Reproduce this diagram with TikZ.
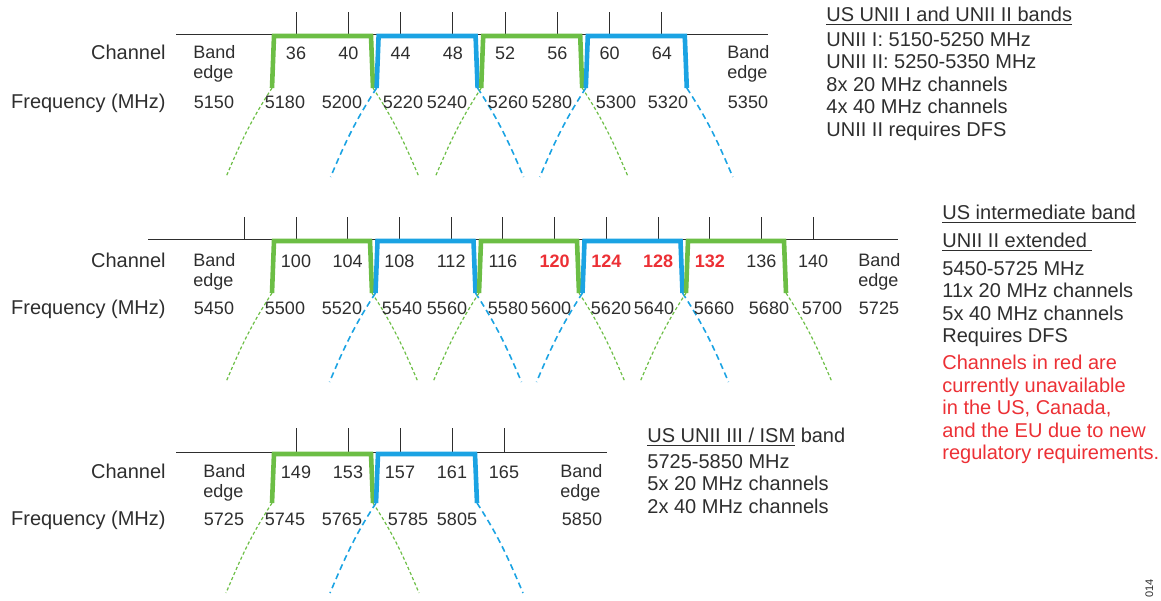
\documentclass[tikz,border=0pt]{standalone}
\usepackage{fontspec}
\setmainfont{Liberation Sans}
\definecolor{wifigreen}{HTML}{6CBE45}
\definecolor{wifiblue}{HTML}{1BA3E3}
\definecolor{dfsred}{HTML}{EC3035}
\definecolor{inkgray}{HTML}{2E2E2E}

\begin{document}
\begin{tikzpicture}[x=0.5pt,y=-0.5pt,
 lbl/.style={font=\fontsize{9}{10}\selectfont,text=inkgray,inner sep=0pt,anchor=base},
 rowlbl/.style={lbl,anchor=base east,font=\fontsize{10}{10}\selectfont},
 redlbl/.style={lbl,text=dfsred,font=\fontsize{9}{10}\selectfont\bfseries},
 edgelbl/.style={lbl,align=left,anchor=north west},
 info/.style={lbl,align=left,anchor=north west,font=\fontsize{10}{11.25}\selectfont},
 axis/.style={draw=inkgray,line width=0.5pt},
 blk/.style={line width=2.3pt},
 gskirt/.style={wifigreen,line width=0.6pt,dash pattern=on 1.6pt off 1.2pt},
 bskirt/.style={wifiblue,line width=0.8pt,dash pattern=on 3pt off 2pt}]
\useasboundingbox (0,0) rectangle (1161,600);

% UNII I and UNII II
\node[rowlbl] (r1chan) at (166,59) {Channel};
\node[rowlbl] (r1freq) at (166,108) {Frequency (MHz)};
\draw[axis] (176,34) -- (768,34);
\foreach \n in {36,40,...,64}{
 \draw[axis] ({296+(\n-36)*13.07},12) -- ++(0,22);
 \node[lbl] (r1c\n) at ({296+(\n-36)*13.07},59) {\n};}
\foreach \k/\c/\s in {0/wifigreen/gskirt,1/wifiblue/bskirt,2/wifigreen/gskirt,3/wifiblue/bskirt}{
 \draw[blk,\c] ({272+104.6*\k},88) coordinate (r1l\k) -- ++(2,-52) -- ++(97,0) -- ++(2,52) coordinate (r1r\k);
 \draw[\s] (r1l\k) to[out=237,in=67] ++(-46,89);
 \draw[\s] (r1r\k) to[out=303,in=113] ++(46,89);}
\foreach \x/\f in {214/5150,285/5180,342/5200,403/5220,447/5240,508/5260,552/5280,616/5300,668/5320,748/5350}
 \node[lbl] (r1f\f) at (\x,108) {\f};
\node[edgelbl] (r1el) at (193,45) {Band\\edge};
\node[edgelbl] (r1er) at (727,45) {Band\\edge};
\node[info] (r1head) at (826,7) {\underline{US UNII I and UNII II bands}};
\node[info] (r1note) at (826,32) {UNII I: 5150-5250 MHz\\UNII II: 5250-5350 MHz\\8x 20 MHz channels\\4x 40 MHz channels\\UNII II requires DFS};

% UNII II extended
\node[rowlbl] (r2chan) at (166,267) {Channel};
\node[rowlbl] (r2freq) at (166,314) {Frequency (MHz)};
\draw[axis] (148,239) -- (898,239);
\foreach \n in {96,100,...,140}
 \draw[axis] ({296+(\n-100)*12.93},217) -- ++(0,22);
\foreach \n/\s in {100/lbl,104/lbl,108/lbl,112/lbl,116/lbl,120/redlbl,124/redlbl,128/redlbl,132/redlbl,136/lbl,140/lbl}
 \node[\s] (r2c\n) at ({296+(\n-100)*12.93},267) {\n};
\foreach \k/\c/\s in {0/wifigreen/gskirt,1/wifiblue/bskirt,2/wifigreen/gskirt,3/wifiblue/bskirt,4/wifigreen/gskirt}{
 \draw[blk,\c] ({272+103.5*\k},293) coordinate (r2l\k) -- ++(2,-52) -- ++(96,0) -- ++(2,52) coordinate (r2r\k);
 \draw[\s] (r2l\k) to[out=237,in=67] ++(-46,89);
 \draw[\s] (r2r\k) to[out=303,in=113] ++(46,89);}
\foreach \x/\f in {214/5450,285/5500,342/5520,402/5540,447/5560,508/5580,551/5600,611/5620,654/5640,714/5660,769/5680,822/5700,879/5725}
 \node[lbl] (r2f\f) at (\x,314) {\f};
\node[edgelbl] (r2el) at (193,253) {Band\\edge};
\node[edgelbl] (r2er) at (858,253) {Band\\edge};
\node[info] (r2head) at (942,205) {\underline{US intermediate band}};
\node[info] (r2sub) at (942,233) {\underline{UNII II extended\ }};
\node[info] (r2note) at (942,261) {5450-5725 MHz\\11x 20 MHz channels\\5x 40 MHz channels\\Requires DFS};
\node[info,text=dfsred] (r2red) at (942,355) {Channels in red are\\currently unavailable\\in the US, Canada,\\and the EU due to new\\regulatory requirements.};

% UNII III / ISM
\node[rowlbl] (r3chan) at (166,478) {Channel};
\node[rowlbl] (r3freq) at (166,525) {Frequency (MHz)};
\draw[axis] (176,452) -- (607,452);
\foreach \n in {149,153,...,165}{
 \draw[axis] ({296+(\n-149)*13},428) -- ++(0,24);
 \node[lbl] (r3c\n) at ({296+(\n-149)*13},478) {\n};}
\foreach \k/\c/\s in {0/wifigreen/gskirt,1/wifiblue/bskirt}{
 \draw[blk,\c] ({272+104*\k},503) coordinate (r3l\k) -- ++(2,-49) -- ++(97,0) -- ++(2,49) coordinate (r3r\k);
 \draw[\s] (r3l\k) to[out=237,in=67] ++(-46,90);
 \draw[\s] (r3r\k) to[out=303,in=113] ++(46,90);}
\foreach \x/\f in {224/5725,285/5745,342/5765,408/5785,457/5805,582/5850}
 \node[lbl] (r3f\f) at (\x,525) {\f};
\node[edgelbl] (r3el) at (203,464) {Band\\edge};
\node[edgelbl] (r3er) at (560,464) {Band\\edge};
\node[info] (r3head) at (647,428) {\underline{US UNII III / ISM} band};
\node[info] (r3note) at (647,454) {5725-5850 MHz\\5x 20 MHz channels\\2x 40 MHz channels};

\node[lbl,rotate=90,anchor=base west,font=\fontsize{5.5}{5.5}\selectfont] (figid) at (1153,598) {014};
\end{tikzpicture}
\end{document}
